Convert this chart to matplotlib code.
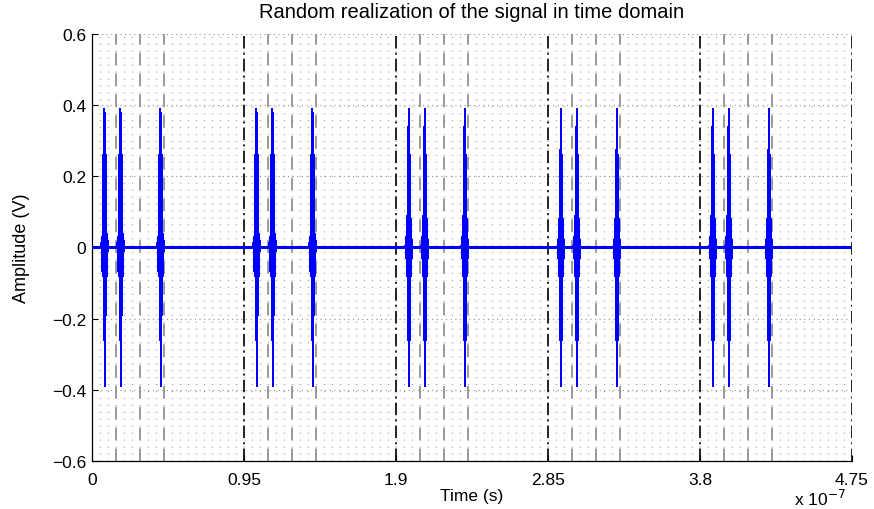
import numpy as np
import matplotlib
matplotlib.use("Agg")
import matplotlib.pyplot as plt

plt.rcParams['font.family'] = ['Liberation Sans', 'DejaVu Sans']
plt.rcParams['lines.scale_dashes'] = False

# ---- data (time in units of 1e-7 s) ----
pulse_centers = [0.078, 0.178, 0.428,
                 1.028, 1.128, 1.378,
                 1.979, 2.079, 2.329,
                 2.930, 3.029, 3.280,
                 3.879, 3.979, 4.230]
# one pulse waveform: offsets (1e-7 s) around the centre and amplitudes (V)
pulse_offsets = [-0.0200, -0.0180, -0.0160, -0.0140, -0.0120, -0.0100, -0.0080,
                 -0.0060, -0.0040, -0.0020, 0.0000, 0.0020, 0.0040, 0.0060,
                 0.0080, 0.0100, 0.0120, 0.0140, 0.0160, 0.0180, 0.0200, 0.0220]
pulse_values = [0.0, 0.02, -0.03, 0.03, -0.08, 0.08, -0.08, 0.26, -0.26, 0.26,
                0.39, -0.39, 0.26, -0.26, 0.26, -0.08, 0.08, -0.08, 0.03, -0.03,
                0.02, 0.0]
frame_bounds = [0.95, 1.9, 2.85, 3.8, 4.75]
chip_bounds = [0.15, 0.30, 0.45, 1.10, 1.25, 1.40, 2.05, 2.20, 2.35,
               3.00, 3.15, 3.30, 3.95, 4.10, 4.25]
x_ticks = [0, 0.95, 1.9, 2.85, 3.8, 4.75]
x_tick_labels = ['0', '0.95', '1.9', '2.85', '3.8', '4.75']
y_ticks = [-0.6, -0.4, -0.2, 0, 0.2, 0.4, 0.6]
y_tick_labels = ['\u22120.6', '\u22120.4', '\u22120.2', '0', '0.2', '0.4', '0.6']
t_start, t_end = 0.0, 4.75

# build the time-domain signal from the pulse list
t = [t_start]
s = [0.0]
for c in pulse_centers:
    for o, v in zip(pulse_offsets, pulse_values):
        t.append(c + o)
        s.append(v)
t.append(t_end)
s.append(0.0)

fig = plt.figure(figsize=(8.74, 5.10), dpi=100)
ax = fig.add_axes([92/874, 1 - 462/510, 760/874, 427/510])

ax.set_xlim(0, 4.75)
ax.set_ylim(-0.6, 0.6)

# minor vertical dotted grid (lattice of dots)
for xm in np.arange(0.05, 4.75, 0.05):
    ax.axvline(xm, color='#a8a8a8', lw=1.0, linestyle=(0, (0.75, 4.25)), zorder=1)
# horizontal major dotted grid
for yv in y_ticks:
    if yv != 0:
        ax.axhline(yv, color='#8c8c8c', lw=0.8, linestyle=(0, (0.75, 2.6)), zorder=1)

for xc in chip_bounds:
    ax.axvline(xc, color='#8a8a8a', lw=1.2, linestyle=(0, (9, 6)), zorder=2)
for xf in frame_bounds:
    ax.axvline(xf, color='black', lw=1.2, linestyle=(0, (9, 3, 1.5, 3)), zorder=2)

ax.plot(t, s, color='#0000ff', lw=0.75, zorder=3, antialiased=False)

ax.set_xticks(x_ticks)
ax.set_xticklabels(x_tick_labels)
ax.set_yticks(y_ticks)
ax.set_yticklabels(y_tick_labels)
ax.tick_params(direction='in', length=4, width=0.8, labelsize=12.5)
ax.tick_params(axis='x', pad=8)
ax.tick_params(axis='y', pad=4)
for side in ['top', 'right']:
    ax.spines[side].set_visible(False)
for side in ['left', 'bottom']:
    ax.spines[side].set_linewidth(0.9)

ax.set_title('Random realization of the signal in time domain', fontsize=14.5, pad=12)
ax.set_xlabel('Time (s)', fontsize=12.5, labelpad=1)
ax.set_ylabel('Amplitude (V)', fontsize=13, labelpad=16)
fig.text(794/874, 1 - 509/510, 'x 10$^{-7}$', fontsize=12.5, ha='left', va='bottom')

fig.savefig('out.png', dpi=100)
